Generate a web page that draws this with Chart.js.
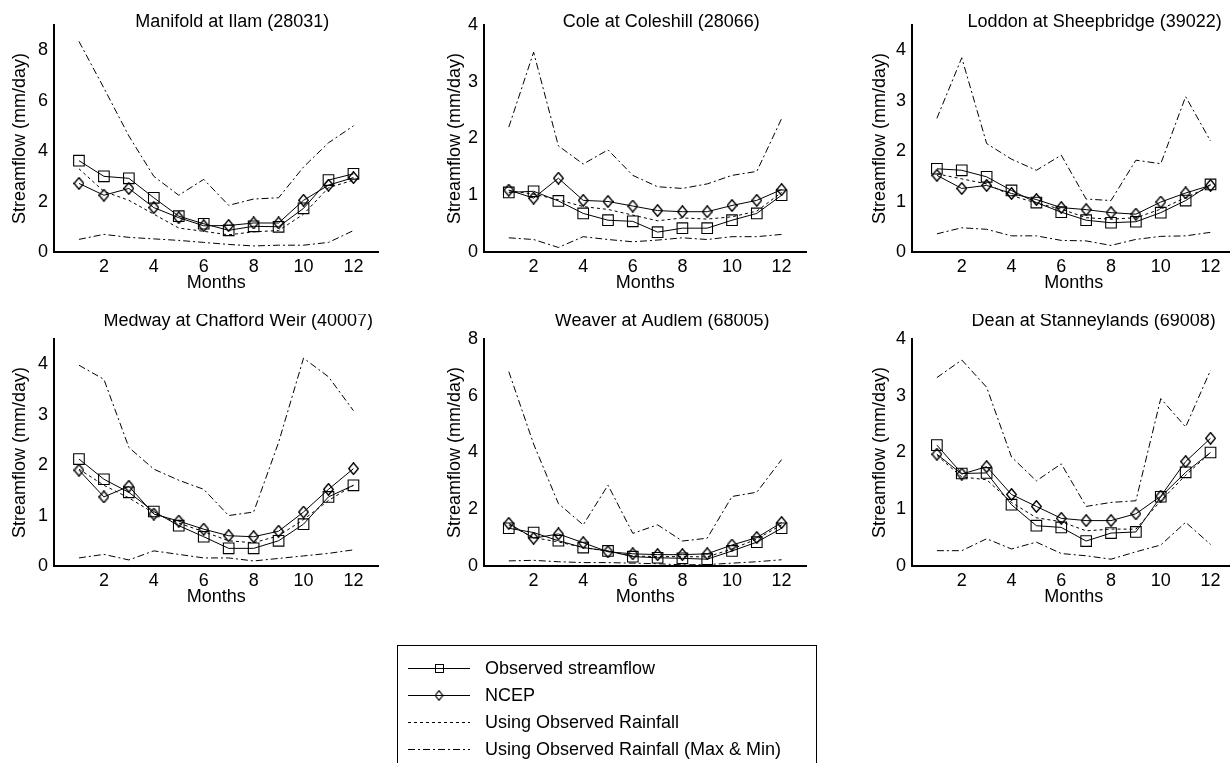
<!DOCTYPE html>
<html>
<head>
<meta charset="utf-8">
<title>Monthly streamflow</title>
<script src="https://cdn.jsdelivr.net/npm/chart.js@4.4.0/dist/chart.umd.min.js"></script>
<style>
  html, body { margin: 0; padding: 0; background: #fff; width: 1230px; height: 763px; overflow: hidden; }
  canvas { position: absolute; }
</style>
</head>
<body>
<canvas id="c1" width="387" height="294" style="left:0px;top:0px"></canvas>
<canvas id="c2" width="385" height="294" style="left:430px;top:0px"></canvas>
<canvas id="c3" width="386" height="294" style="left:858px;top:0px"></canvas>
<canvas id="c4" width="387" height="294" style="left:0px;top:314px"></canvas>
<canvas id="c5" width="385" height="294" style="left:430px;top:314px"></canvas>
<canvas id="c6" width="386" height="294" style="left:858px;top:314px"></canvas>
<canvas id="legend" width="440" height="130" style="left:390px;top:640px"></canvas>

<script>
// months on the x axis
const months = [1, 2, 3, 4, 5, 6, 7, 8, 9, 10, 11, 12];
const xTicks = [2, 4, 6, 8, 10, 12];

const seriesNames = ['Observed streamflow', 'NCEP', 'Using Observed Rainfall', 'Using Observed Rainfall (Max & Min)'];

// Manifold at Ilam (28031)
const manifoldObs  = [3.62, 3.0, 2.92, 2.15, 1.42, 1.12, 0.86, 1.02, 1.0, 1.73, 2.85, 3.1];
const manifoldNcep = [2.72, 2.25, 2.52, 1.76, 1.36, 1.04, 1.05, 1.15, 1.15, 2.05, 2.65, 2.95];
const manifoldRain = [3.3, 2.4, 2.05, 1.5, 0.95, 0.82, 0.68, 0.8, 0.85, 1.5, 2.55, 2.85];
const manifoldMax  = [8.35, 6.5, 4.6, 3.0, 2.25, 2.88, 1.85, 2.1, 2.15, 3.37, 4.33, 5.0];
const manifoldMin  = [0.5, 0.7, 0.58, 0.52, 0.46, 0.38, 0.3, 0.24, 0.27, 0.27, 0.38, 0.85];

// Cole at Coleshill (28066)
const coleObs  = [1.05, 1.07, 0.9, 0.68, 0.56, 0.54, 0.35, 0.42, 0.42, 0.56, 0.68, 1.0];
const coleNcep = [1.09, 0.95, 1.3, 0.91, 0.89, 0.81, 0.73, 0.71, 0.71, 0.82, 0.91, 1.1];
const coleRain = [1.08, 1.02, 0.92, 0.8, 0.75, 0.65, 0.55, 0.6, 0.58, 0.62, 0.72, 1.05];
const coleMax  = [2.2, 3.52, 1.87, 1.55, 1.8, 1.35, 1.15, 1.12, 1.2, 1.35, 1.42, 2.35];
const coleMin  = [0.25, 0.22, 0.08, 0.27, 0.22, 0.18, 0.21, 0.25, 0.22, 0.27, 0.27, 0.31];

// Loddon at Sheepbridge (39022)
const loddonObs  = [1.65, 1.62, 1.49, 1.22, 0.98, 0.79, 0.63, 0.58, 0.6, 0.78, 1.02, 1.34];
const loddonNcep = [1.52, 1.26, 1.32, 1.16, 1.04, 0.88, 0.84, 0.78, 0.75, 0.99, 1.17, 1.32];
const loddonRain = [1.55, 1.45, 1.35, 1.12, 0.97, 0.85, 0.68, 0.65, 0.68, 0.85, 1.08, 1.3];
const loddonMax  = [2.65, 3.85, 2.15, 1.84, 1.62, 1.92, 1.05, 1.02, 1.82, 1.75, 3.08, 2.2];
const loddonMin  = [0.36, 0.48, 0.45, 0.32, 0.32, 0.23, 0.22, 0.13, 0.25, 0.31, 0.32, 0.39];

// Medway at Chafford Weir (40007)
const medwayObs  = [2.12, 1.72, 1.46, 1.08, 0.8, 0.58, 0.35, 0.35, 0.5, 0.83, 1.37, 1.6];
const medwayNcep = [1.9, 1.37, 1.58, 1.03, 0.89, 0.73, 0.6, 0.58, 0.69, 1.07, 1.52, 1.93];
const medwayRain = [1.92, 1.6, 1.35, 1.05, 0.85, 0.68, 0.5, 0.46, 0.6, 0.92, 1.3, 1.6];
const medwayMax  = [3.98, 3.7, 2.35, 1.92, 1.7, 1.52, 1.0, 1.07, 2.45, 4.12, 3.75, 3.08];
const medwayMin  = [0.16, 0.23, 0.12, 0.3, 0.23, 0.16, 0.16, 0.1, 0.15, 0.2, 0.25, 0.32];

// Weaver at Audlem (68005)
const weaverObs  = [1.33, 1.18, 0.89, 0.65, 0.53, 0.33, 0.29, 0.27, 0.24, 0.53, 0.84, 1.33];
const weaverNcep = [1.5, 0.98, 1.13, 0.82, 0.5, 0.43, 0.4, 0.4, 0.43, 0.74, 1.0, 1.53];
const weaverRain = [1.45, 1.0, 0.85, 0.65, 0.52, 0.35, 0.33, 0.33, 0.32, 0.6, 0.95, 1.45];
const weaverMax  = [6.85, 4.3, 2.2, 1.45, 2.85, 1.15, 1.45, 0.88, 0.98, 2.45, 2.6, 3.75];
const weaverMin  = [0.18, 0.2, 0.15, 0.12, 0.12, 0.1, 0.08, 0.04, 0.05, 0.1, 0.15, 0.22];

// Dean at Stanneylands (69008)
const deanObs  = [2.13, 1.63, 1.64, 1.08, 0.71, 0.68, 0.44, 0.58, 0.6, 1.22, 1.65, 2.0];
const deanNcep = [1.97, 1.62, 1.75, 1.26, 1.05, 0.84, 0.8, 0.8, 0.92, 1.23, 1.84, 2.25];
const deanRain = [1.95, 1.57, 1.52, 1.12, 0.85, 0.78, 0.62, 0.65, 0.65, 1.15, 1.6, 2.0];
const deanMax  = [3.32, 3.63, 3.15, 1.92, 1.5, 1.8, 1.05, 1.12, 1.15, 2.95, 2.45, 3.45];
const deanMin  = [0.27, 0.27, 0.48, 0.3, 0.42, 0.22, 0.18, 0.12, 0.25, 0.37, 0.77, 0.38];

const ticks9 = [0, 2, 4, 6, 8];
const ticks8 = [0, 2, 4, 6, 8];
const ticks4 = [0, 1, 2, 3, 4];

const FONT = "'Liberation Sans', Arial, Helvetica, sans-serif";
Chart.defaults.font.family = FONT;
Chart.defaults.color = '#000';

// hollow diamond, a bit taller than wide like the matlab one
function diamond(w, h, lw) {
  var c = document.createElement('canvas');
  c.width = w; c.height = h;
  var g = c.getContext('2d');
  g.strokeStyle = '#000';
  g.lineWidth = lw;
  g.beginPath();
  g.moveTo(w / 2, 0.7);
  g.lineTo(w - 0.7, h / 2);
  g.lineTo(w / 2, h - 0.7);
  g.lineTo(0.7, h / 2);
  g.closePath();
  g.stroke();
  return c;
}
const diamondMark = diamond(11, 13, 1.35);

const panelTitle = {
  id: 'panelTitle',
  afterDraw(chart, args, opts) {
    const ctx = chart.ctx, a = chart.chartArea;
    ctx.save();
    ctx.font = '18px ' + FONT;
    ctx.fillStyle = '#000';
    ctx.textAlign = 'center';
    ctx.textBaseline = 'middle';
    ctx.fillText(opts.text, (a.left + a.right) / 2 + opts.dx, a.top + opts.dy);
    ctx.restore();
  }
};

function pts(vals) {
  return months.map(function (m, i) { return { x: m, y: vals[i] }; });
}

function makePanel(id, title, dx, dy, yMax, yTicks, yTitlePad, obs, ncep, rain, mx, mn) {
  const line = { borderColor: '#000', borderWidth: 1, tension: 0, fill: false };
  new Chart(document.getElementById(id), {
    type: 'line',
    data: {
      datasets: [
        Object.assign({ label: seriesNames[0], data: pts(obs), pointStyle: 'rect', pointRadius: 7.5,
          pointBorderColor: '#000', pointBackgroundColor: 'rgba(0,0,0,0)', pointBorderWidth: 1.1 }, line),
        Object.assign({ label: seriesNames[1], data: pts(ncep), pointStyle: diamondMark, pointRadius: 6 }, line),
        Object.assign({ label: seriesNames[2], data: pts(rain), pointRadius: 0, borderDash: [3, 3] }, line),
        Object.assign({ label: seriesNames[3], data: pts(mx), pointRadius: 0, borderDash: [7, 3, 2, 3] }, line),
        Object.assign({ label: seriesNames[3] + ' min', data: pts(mn), pointRadius: 0, borderDash: [7, 3, 2, 3] }, line)
      ]
    },
    options: {
      responsive: false,
      animation: false,
      events: [],
      layout: { padding: { top: 25, right: 6, left: 0, bottom: 0 } },
      plugins: {
        legend: { display: false },
        tooltip: { enabled: false },
        panelTitle: { text: title, dx: dx, dy: dy }
      },
      scales: {
        x: {
          type: 'linear', min: 0, max: 13,
          afterBuildTicks: function (s) { s.ticks = xTicks.map(function (v) { return { value: v }; }); },
          afterFit: function (s) { s.height = 42; },
          grid: { display: false, drawTicks: false },
          border: { display: true, color: '#000', width: 2 },
          ticks: { padding: 4, maxRotation: 0, autoSkip: false, font: { size: 18 } },
          title: { display: true, text: 'Months', font: { size: 18 }, padding: 0 }
        },
        y: {
          min: 0, max: yMax,
          afterBuildTicks: function (s) { s.ticks = yTicks.map(function (v) { return { value: v }; }); },
          afterFit: function (s) { s.width = 54; },
          grid: { display: false, drawTicks: false },
          border: { display: true, color: '#000', width: 2 },
          ticks: { padding: 6, font: { size: 18 } },
          title: { display: true, text: 'Streamflow (mm/day)', font: { size: 18 }, padding: { top: yTitlePad, bottom: 0 } }
        }
      }
    },
    plugins: [panelTitle]
  });
}

makePanel('c1', 'Manifold at Ilam (28031)', 16, -3, 9, ticks9, 9, manifoldObs, manifoldNcep, manifoldRain, manifoldMax, manifoldMin);
makePanel('c2', 'Cole at Coleshill (28066)', 16, -3, 4, ticks4, 14, coleObs, coleNcep, coleRain, coleMax, coleMin);
makePanel('c3', 'Loddon at Sheepbridge (39022)', 21, -3, 4.5, ticks4, 11, loddonObs, loddonNcep, loddonRain, loddonMax, loddonMin);
makePanel('c4', 'Medway at Chafford Weir (40007)', 22, -18, 4.5, ticks4, 9, medwayObs, medwayNcep, medwayRain, medwayMax, medwayMin);
makePanel('c5', 'Weaver at Audlem (68005)', 17, -18, 8, ticks8, 14, weaverObs, weaverNcep, weaverRain, weaverMax, weaverMin);
makePanel('c6', 'Dean at Stanneylands (69008)', 20, -18, 4, ticks4, 11, deanObs, deanNcep, deanRain, deanMax, deanMin);

// legend box under the panels (bottom edge runs off the page)
(function () {
  var cv = document.getElementById('legend');
  var g = cv.getContext('2d');
  g.strokeStyle = '#000';
  g.lineWidth = 1;
  g.strokeRect(7.5, 5.5, 419, 200);
  var rows = [28, 55, 82, 109];
  g.font = '18px ' + FONT;
  g.fillStyle = '#000';
  g.textBaseline = 'middle';
  seriesNames.forEach(function (name, i) {
    var y = rows[i] + 0.5;
    g.save();
    if (i === 2) g.setLineDash([3, 3]);
    if (i === 3) g.setLineDash([7, 3, 2, 3]);
    g.beginPath();
    g.moveTo(18, y);
    g.lineTo(80, y);
    g.stroke();
    g.restore();
    if (i === 0) g.strokeRect(45.5, y - 4, 8, 8);
    if (i === 1) g.drawImage(diamond(9, 11, 1.2), 44.5, y - 5.5);
    g.fillText(name, 95, rows[i] + 1);
  });
})();
</script>
</body>
</html>
